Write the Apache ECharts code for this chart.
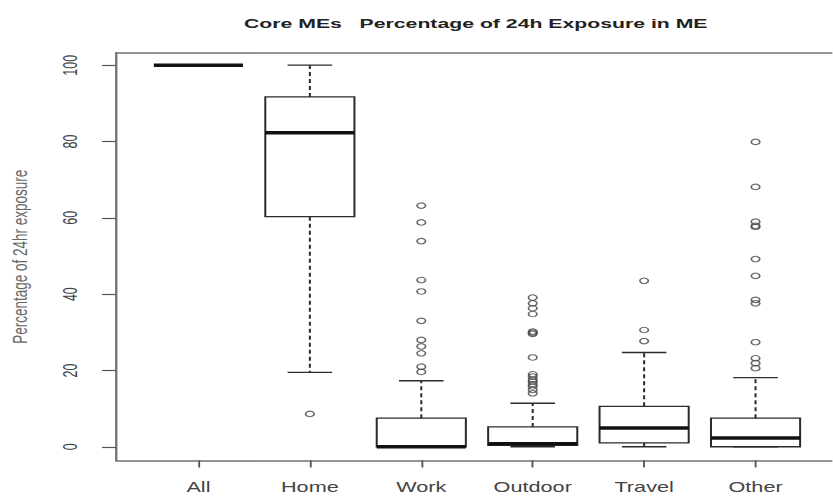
<!DOCTYPE html>
<html>
<head>
<meta charset="utf-8">
<script src="https://cdn.jsdelivr.net/npm/echarts@6/dist/echarts.min.js"></script>
<style>
  html, body { margin: 0; padding: 0; background: #fff; overflow: hidden; }
  #chart { position: absolute; left: 0; top: 0; height: 497px; transform-origin: 0 0; }
</style>
</head>
<body>
<div id="chart"></div>
<script>
// Categories and five-number summaries of each box
const categories = ['All', 'Home', 'Work', 'Outdoor', 'Travel', 'Other'];
const whiskerLow  = [100, 19.5, 0,    0,    0,    0];
const quartile1   = [100, 60.3, 0,    0.4,  1.0,  0];
const medians     = [100, 82.3, 0,    0.8,  4.9,  2.3];
const quartile3   = [100, 91.7, 7.5,  5.2,  10.6, 7.5];
const whiskerHigh = [100, 100,  17.3, 11.4, 24.7, 18.1];

// Points beyond the whiskers
const outliersAll = [];
const outliersHome = [8.6];
const outliersWork = [63.2, 58.8, 53.9, 43.7, 40.7, 33.0, 28.0, 26.3, 24.5, 21.0, 19.6];
const outliersOutdoor = [39.1, 37.6, 36.3, 34.8, 30.2, 29.9, 29.6, 23.4, 19.0, 18.4, 17.6, 17.1, 16.4, 15.8, 14.9, 14.0];
const outliersTravel = [43.5, 30.6, 27.7];
const outliersOther = [79.9, 68.1, 59.0, 57.9, 57.6, 49.2, 44.8, 38.5, 37.6, 27.4, 23.2, 21.9, 20.6];

const yTicks = [0, 20, 40, 60, 80, 100];
const xTicks = [1, 2, 3, 4, 5, 6];

// The page is drawn narrow and widened horizontally as a whole
const SX = 1.55;
const PAGE_W = 833, PAGE_H = 497;
const W = PAGE_W / SX;
const INK = '#2b2b2b';
const FRAME = { color: '#727272', width: 1.5 };
const TICK = { color: '#555', width: 1.2 };

const el = document.getElementById('chart');
el.style.width = W + 'px';
el.style.transform = 'scaleX(' + SX + ')';

const boxData = categories.map((c, i) =>
  [i + 1, whiskerLow[i], quartile1[i], medians[i], quartile3[i], whiskerHigh[i]]);

const outlierData = [];
[outliersAll, outliersHome, outliersWork, outliersOutdoor, outliersTravel, outliersOther]
  .forEach((arr, i) => arr.forEach(v => outlierData.push([i + 1, v])));

// One box: dashed whiskers, half-width caps, box outline and a heavy median bar
function renderBox(params, api) {
  const x = api.value(0);
  const lo = api.value(1), b1 = api.value(2), md = api.value(3), b3 = api.value(4), hi = api.value(5);
  const band = api.size([1, 0])[0];
  const half = band * 0.4;
  const capHalf = band * 0.2;
  const px = api.coord([x, md])[0];
  const y = v => api.coord([x, v])[1];
  const line = (x1, y1, x2, y2, style) => ({ type: 'line', shape: { x1, y1, x2, y2 }, style });
  const solid = { stroke: INK, lineWidth: 1.3 };
  const dashed = { stroke: INK, lineWidth: 1.3, lineDash: [4, 3] };
  const thick = { stroke: '#111', lineWidth: 3.5 };
  return {
    type: 'group',
    children: [
      line(px, y(b3), px, y(hi), dashed),
      line(px, y(b1), px, y(lo), dashed),
      line(px - capHalf, y(hi), px + capHalf, y(hi), solid),
      line(px - capHalf, y(lo), px + capHalf, y(lo), solid),
      { type: 'rect', shape: { x: px - half, y: y(b3), width: 2 * half, height: y(b1) - y(b3) },
        style: { stroke: INK, lineWidth: 1.3, fill: 'none' } },
      line(px - half, y(md), px + half, y(md), thick)
    ]
  };
}

const chart = echarts.init(el, null, { renderer: 'svg', width: W, height: PAGE_H });
chart.setOption({
  animation: false,
  backgroundColor: '#fff',
  title: {
    text: 'Core MEs   Percentage of 24h Exposure in ME',
    left: 468 / SX,
    top: 11,
    textAlign: 'center',
    textStyle: { fontFamily: 'Liberation Sans', fontWeight: 'bold', fontSize: 13.7, color: '#222' }
  },
  grid: {
    left: 116 / SX,
    right: (PAGE_W - 838) / SX,
    top: 53,
    bottom: PAGE_H - 460.5,
    show: false,
    containLabel: false,
    outerBoundsMode: 'none'
  },
  xAxis: [
    {
      type: 'value',
      position: 'bottom',
      min: 0.26,
      max: 6.74,
      splitLine: { show: false },
      axisLine: { show: true, onZero: false, lineStyle: FRAME },
      axisTick: { show: true, customValues: xTicks, length: 7, lineStyle: TICK },
      axisLabel: {
        customValues: xTicks,
        formatter: v => categories[Math.round(v) - 1],
        margin: 20,
        fontFamily: 'Liberation Sans',
        fontSize: 14,
        color: '#444'
      }
    },
    {
      // top edge of the plot frame
      type: 'value',
      position: 'top',
      min: 0.26,
      max: 6.74,
      splitLine: { show: false },
      axisLine: { show: true, onZero: false, lineStyle: FRAME },
      axisTick: { show: false },
      axisLabel: { show: false }
    }
  ],
  yAxis: {
    type: 'value',
    min: -3.6,
    max: 103.2,
    name: 'Percentage of 24hr exposure',
    nameLocation: 'middle',
    nameRotate: 90,
    nameGap: 85 / SX,
    nameTextStyle: { fontFamily: 'Liberation Sans', fontSize: 13.5, color: '#666' },
    splitLine: { show: false },
    axisLine: { show: true, onZero: false, lineStyle: FRAME },
    axisTick: { show: true, customValues: yTicks, length: 14 / SX, lineStyle: TICK },
    axisLabel: {
      customValues: yTicks,
      rotate: 90,
      margin: 36 / SX,
      fontFamily: 'Liberation Sans',
      fontSize: 12.5,
      color: '#444'
    }
  },
  series: [
    {
      type: 'custom',
      name: 'boxes',
      renderItem: renderBox,
      encode: { x: 0, y: [1, 2, 3, 4, 5] },
      data: boxData,
      z: 2
    },
    {
      type: 'scatter',
      name: 'outliers',
      data: outlierData,
      symbol: 'circle',
      symbolSize: 5.5,
      itemStyle: { color: 'rgba(0,0,0,0)', borderColor: '#444', borderWidth: 1.1 },
      z: 3
    }
  ]
});
</script>
</body>
</html>
